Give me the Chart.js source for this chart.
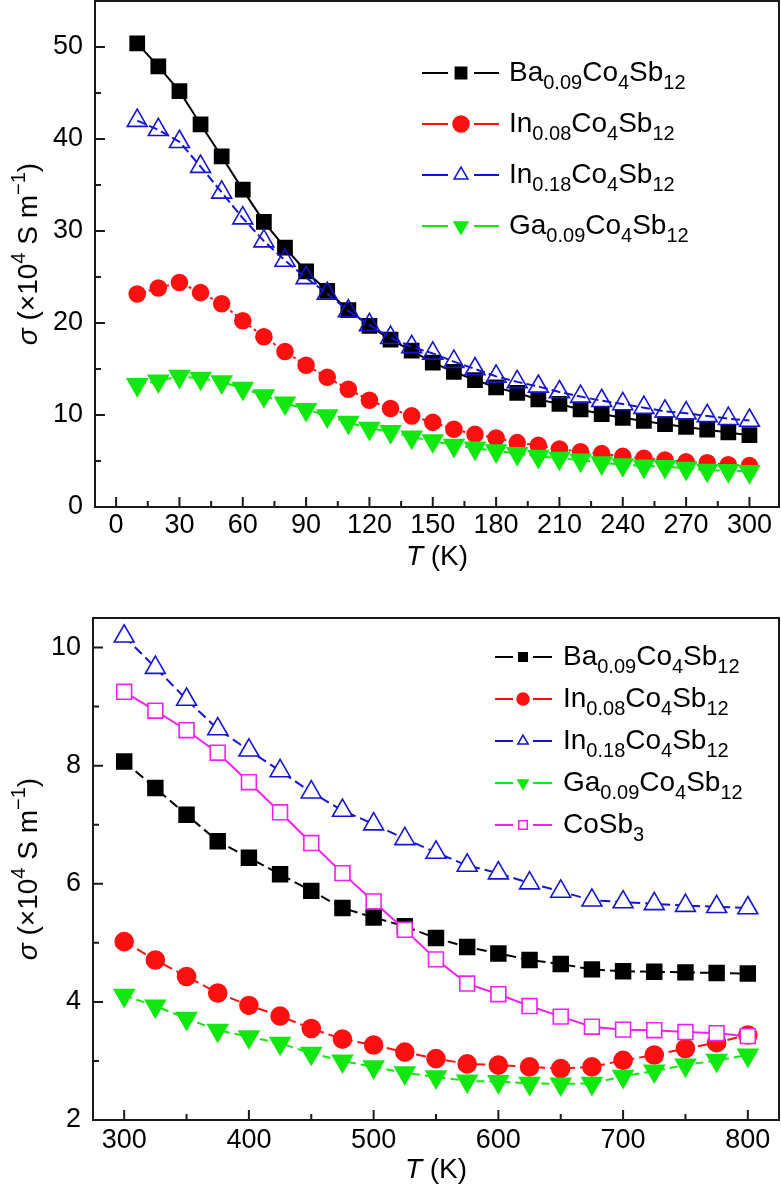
<!DOCTYPE html>
<html>
<head>
<meta charset="utf-8">
<title>Electrical conductivity of filled skutterudites</title>
<script src="https://cdn.jsdelivr.net/npm/chart.js@4.4.1/dist/chart.umd.min.js"></script>
<style>
  html, body { margin: 0; padding: 0; background: #fff; }
  body { width: 781px; height: 1197px; position: relative; overflow: hidden; }
  canvas { position: absolute; left: 0; }
  #lowChart { top: 0; }
  #highChart { top: 590px; }
</style>
</head>
<body>
<canvas id="lowChart" width="781" height="590"></canvas>
<canvas id="highChart" width="781" height="607"></canvas>
<script>
// ---- top panel: 10 - 300 K ----
const tempLow = [10, 20, 30, 40, 50, 60, 70, 80, 90, 100, 110, 120, 130, 140, 150,
                 160, 170, 180, 190, 200, 210, 220, 230, 240, 250, 260, 270, 280, 290, 300];
const baLow   = [50.4, 47.9, 45.2, 41.6, 38.1, 34.5, 31.0, 28.2, 25.6, 23.5, 21.4, 19.7, 18.2, 17.0, 15.7,
                 14.7, 13.8, 13.0, 12.4, 11.7, 11.2, 10.6, 10.1, 9.7, 9.35, 9.0, 8.7, 8.4, 8.1, 7.8];
const in08Low = [23.15, 23.8, 24.4, 23.3, 22.1, 20.25, 18.5, 16.9, 15.4, 14.1, 12.8, 11.6, 10.7, 9.9, 9.2,
                 8.45, 7.9, 7.5, 7.0, 6.7, 6.3, 6.0, 5.8, 5.5, 5.3, 5.1, 4.9, 4.8, 4.6, 4.5];
const in18Low = [42.0, 41.0, 39.7, 37.0, 34.2, 31.4, 28.9, 26.8, 24.9, 23.2, 21.3, 19.8, 18.4, 17.4, 16.7,
                 15.8, 15.0, 14.2, 13.6, 13.1, 12.5, 12.0, 11.55, 11.2, 10.8, 10.4, 10.2, 9.9, 9.6, 9.4];
const gaLow   = [13.3, 13.7, 14.2, 14.0, 13.6, 12.9, 12.1, 11.3, 10.6, 9.9, 9.2, 8.55, 8.2, 7.6, 7.2,
                 6.7, 6.4, 6.1, 5.8, 5.5, 5.3, 5.1, 4.8, 4.6, 4.45, 4.4, 4.2, 4.0, 3.95, 3.85];
const xTicksLow = [0, 30, 60, 90, 120, 150, 180, 210, 240, 270, 300];
const xMinorLow = [15, 45, 75, 105, 135, 165, 195, 225, 255, 285];
const yTicksLow = [0, 10, 20, 30, 40, 50];
const yMinorLow = [5, 15, 25, 35, 45];

// ---- bottom panel: 300 - 800 K ----
const tempHigh = [300, 325, 350, 375, 400, 425, 450, 475, 500, 525, 550,
                  575, 600, 625, 650, 675, 700, 725, 750, 775, 800];
const baHigh   = [8.07, 7.62, 7.17, 6.72, 6.44, 6.16, 5.88, 5.59, 5.43, 5.28, 5.08,
                  4.93, 4.82, 4.71, 4.64, 4.55, 4.52, 4.51, 4.50, 4.49, 4.48];
const in08High = [5.02, 4.71, 4.43, 4.15, 3.94, 3.76, 3.55, 3.37, 3.27, 3.15, 3.04,
                  2.95, 2.93, 2.90, 2.87, 2.90, 3.01, 3.10, 3.21, 3.31, 3.44];
const in18High = [10.19, 9.66, 9.12, 8.62, 8.26, 7.91, 7.55, 7.24, 7.01, 6.76, 6.53,
                  6.31, 6.18, 6.01, 5.87, 5.72, 5.69, 5.66, 5.63, 5.61, 5.59];
const gaHigh   = [4.11, 3.93, 3.72, 3.52, 3.41, 3.30, 3.13, 3.00, 2.90, 2.80, 2.73,
                  2.66, 2.65, 2.62, 2.61, 2.62, 2.74, 2.83, 2.93, 3.01, 3.10];
const cosbHigh = [9.25, 8.93, 8.60, 8.22, 7.72, 7.21, 6.69, 6.18, 5.70, 5.22, 4.72,
                  4.31, 4.13, 3.93, 3.75, 3.58, 3.53, 3.52, 3.49, 3.47, 3.42];
const xTicksHigh = [300, 400, 500, 600, 700, 800];
const xMinorHigh = [350, 450, 550, 650, 750];
const yTicksHigh = [2, 4, 6, 8, 10];
const yMinorHigh = [3, 5, 7, 9];

// series names (_{} = subscript)
const nameBa = 'Ba_{0.09}Co_{4}Sb_{12}';
const nameIn08 = 'In_{0.08}Co_{4}Sb_{12}';
const nameIn18 = 'In_{0.18}Co_{4}Sb_{12}';
const nameGa = 'Ga_{0.09}Co_{4}Sb_{12}';
const nameCoSb = 'CoSb_{3}';

const yTitle = '*σ* (×10^{4} S m^{−1})';
const xTitle = '*T* (K)';

const FAMILY = "'Liberation Sans', Arial, Helvetica, sans-serif";
Chart.defaults.font.family = FAMILY;
Chart.defaults.font.size = 27;
Chart.defaults.color = '#000';

// ---- rich text helpers ----
function parseRich(str) {
  const parts = [];
  let buf = '', italic = false, i = 0;
  const flush = () => { if (buf) parts.push({ t: buf, k: italic ? 'it' : 'n' }); buf = ''; };
  while (i < str.length) {
    const c = str[i];
    if ((c === '_' || c === '^') && str[i + 1] === '{') {
      flush();
      const end = str.indexOf('}', i);
      parts.push({ t: str.slice(i + 2, end), k: c === '_' ? 'sub' : 'sup' });
      i = end + 1;
      continue;
    }
    if (c === '*') { flush(); italic = !italic; i++; continue; }
    buf += c; i++;
  }
  flush();
  return parts;
}

function drawRich(ctx, str, x, y, size, align) {
  const parts = parseRich(str);
  const small = Math.round(size * 0.7);
  const fontFor = k => (k === 'it' ? 'italic ' : '') + (k === 'sub' || k === 'sup' ? small : size) + 'px ' + FAMILY;
  let w = 0;
  parts.forEach(p => { ctx.font = fontFor(p.k); w += ctx.measureText(p.t).width; });
  let cx = align === 'center' ? x - w / 2 : x;
  ctx.textAlign = 'left';
  ctx.textBaseline = 'alphabetic';
  parts.forEach(p => {
    ctx.font = fontFor(p.k);
    const dy = p.k === 'sub' ? size * 0.3 : (p.k === 'sup' ? -size * 0.42 : 0);
    ctx.fillText(p.t, cx, y + dy);
    cx += ctx.measureText(p.t).width;
  });
}

function drawMarker(ctx, style, r, x, y, rot) {
  ctx.beginPath();
  if (style === 'rect') {
    const s = r * Math.SQRT1_2;
    ctx.rect(x - s, y - s, 2 * s, 2 * s);
  } else if (style === 'circle') {
    ctx.arc(x, y, r, 0, Math.PI * 2);
  } else {
    let a = (rot || 0) * Math.PI / 180;
    ctx.moveTo(x + Math.sin(a) * r, y - Math.cos(a) * r);
    a += 2 * Math.PI / 3;
    ctx.lineTo(x + Math.sin(a) * r, y - Math.cos(a) * r);
    a += 2 * Math.PI / 3;
    ctx.lineTo(x + Math.sin(a) * r, y - Math.cos(a) * r);
    ctx.closePath();
  }
  ctx.fill();
  ctx.stroke();
}

// frame, inward ticks, axis titles, legend
const decorPlugin = {
  id: 'decor',
  afterDraw(chart, args, o) {
    const { ctx, chartArea: a, scales: { x, y } } = chart;
    ctx.save();
    ctx.strokeStyle = '#1a1a1a';
    ctx.lineWidth = 2;
    ctx.beginPath();
    o.xMajor.forEach(v => { const p = x.getPixelForValue(v); ctx.moveTo(p, a.bottom); ctx.lineTo(p, a.bottom - 10); });
    o.xMinor.forEach(v => { const p = x.getPixelForValue(v); ctx.moveTo(p, a.bottom); ctx.lineTo(p, a.bottom - 6); });
    o.yMajor.forEach(v => { const p = y.getPixelForValue(v); ctx.moveTo(a.left, p); ctx.lineTo(a.left + 10, p); });
    o.yMinor.forEach(v => { const p = y.getPixelForValue(v); ctx.moveTo(a.left, p); ctx.lineTo(a.left + 6, p); });
    ctx.stroke();
    ctx.strokeRect(a.left, a.top, a.right - a.left, a.bottom - a.top);

    ctx.fillStyle = '#000';
    drawRich(ctx, xTitle, (a.left + a.right) / 2, o.xTitleY, 28, 'center');
    ctx.save();
    ctx.translate(o.yTitleX, (a.top + a.bottom) / 2);
    ctx.rotate(-Math.PI / 2);
    drawRich(ctx, yTitle, 0, 0, 28, 'center');
    ctx.restore();

    // legend
    const L = o.legend;
    chart.data.datasets.forEach((ds, i) => {
      const ry = L.y0 + i * L.dy;
      ctx.strokeStyle = ds.borderColor;
      ctx.lineWidth = 2;
      ctx.setLineDash([]);
      ctx.beginPath();
      ctx.moveTo(L.x0, ry); ctx.lineTo(L.xm - L.gap, ry);
      ctx.moveTo(L.xm + L.gap, ry); ctx.lineTo(L.x1, ry);
      ctx.stroke();
      ctx.fillStyle = ds.pointBackgroundColor;
      ctx.lineWidth = 1.5;
      drawMarker(ctx, ds.pointStyle, L.r * (ds.legendScale || 1), L.xm, ry, ds.pointRotation);
      ctx.fillStyle = '#000';
      drawRich(ctx, ds.label, L.xt, ry + 7.5, 28, 'left');
    });
    ctx.restore();
  }
};

function pts(xs, ys) { return xs.map((v, i) => ({ x: v, y: ys[i] })); }

function series(label, xs, ys, color, style, r, fill, dash, order, extra) {
  return Object.assign({
    label: label,
    data: pts(xs, ys),
    borderColor: color,
    backgroundColor: color,
    borderWidth: 2,
    borderDash: dash,
    pointStyle: style,
    pointRadius: r,
    pointBackgroundColor: fill,
    pointBorderColor: color,
    pointBorderWidth: 1.6,
    tension: 0,
    clip: 20,
    order: order
  }, extra || {});
}

function makeOptions(xr, yr, ticks, leftW, axisH, pad, xPad, decor) {
  return {
    responsive: false,
    animation: false,
    devicePixelRatio: 1,
    layout: { padding: pad, autoPadding: false },
    plugins: { legend: { display: false }, tooltip: { enabled: false }, decor: decor },
    scales: {
      x: {
        type: 'linear', min: xr[0], max: xr[1],
        grid: { display: false, drawTicks: false },
        border: { display: false },
        ticks: { padding: xPad, maxRotation: 0 },
        afterBuildTicks: s => { s.ticks = ticks.x.map(v => ({ value: v })); },
        afterFit: s => { s.height = axisH; s.paddingLeft = 0; s.paddingRight = 0; }
      },
      y: {
        type: 'linear', min: yr[0], max: yr[1],
        grid: { display: false, drawTicks: false },
        border: { display: false },
        ticks: { padding: 12 },
        afterBuildTicks: s => { s.ticks = ticks.y.map(v => ({ value: v })); },
        afterFit: s => { s.width = leftW; s.paddingTop = 0; s.paddingBottom = 0; }
      }
    }
  };
}

new Chart(document.getElementById('lowChart'), {
  type: 'line',
  data: {
    datasets: [
      series(nameBa, tempLow, baLow, '#000000', 'rect', 10, '#000000', [], 4),
      series(nameIn08, tempLow, in08Low, '#ff1010', 'circle', 8, '#ff1010', [3, 3], 3),
      series(nameIn18, tempLow, in18Low, '#1515d0', 'triangle', 11.5, 'rgba(255,255,255,0)', [9, 4], 2),
      series(nameGa, tempLow, gaLow, '#10e810', 'triangle', 11.5, '#10e810', [9, 4], 1, { pointRotation: 180 })
    ]
  },
  options: makeOptions([-10, 314], [0, 55], { x: xTicksLow, y: yTicksLow }, 95, 83,
    { top: 1, right: 2, left: 0, bottom: 0 }, 2,
    { xMajor: xTicksLow, xMinor: xMinorLow, yMajor: yTicksLow, yMinor: yMinorLow,
      xTitleY: 565, yTitleX: 37,
      legend: { x0: 422, x1: 499, xm: 461, gap: 13, xt: 509, y0: 73, dy: 51, r: 8 } }),
  plugins: [decorPlugin]
});

new Chart(document.getElementById('highChart'), {
  type: 'line',
  data: {
    datasets: [
      series(nameBa, tempHigh, baHigh, '#000000', 'rect', 10.5, '#000000', [10, 5], 5, { legendScale: 0.8 }),
      series(nameIn08, tempHigh, in08High, '#ff1010', 'circle', 9, '#ff1010', [10, 5], 4, { legendScale: 0.8 }),
      series(nameIn18, tempHigh, in18High, '#1515d0', 'triangle', 11.5, '#ffffff', [10, 5], 3, { legendScale: 0.8 }),
      series(nameGa, tempHigh, gaHigh, '#10e810', 'triangle', 11.5, '#10e810', [8, 5], 2, { pointRotation: 180, legendScale: 0.8 }),
      series(nameCoSb, tempHigh, cosbHigh, '#f020f0', 'rect', 10.5, '#ffffff', [], 1, { legendScale: 0.8 })
    ]
  },
  options: makeOptions([275, 825], [2, 10.5], { x: xTicksHigh, y: yTicksHigh }, 93, 77,
    { top: 28, right: 2, left: 0, bottom: 0 }, 4,
    { xMajor: xTicksHigh, xMinor: xMinorHigh, yMajor: yTicksHigh, yMinor: yMinorHigh,
      xTitleY: 588, yTitleX: 37,
      legend: { x0: 495, x1: 552, xm: 523, gap: 10, xt: 563, y0: 67, dy: 42, r: 7.5 } }),
  plugins: [decorPlugin]
});
</script>
</body>
</html>
